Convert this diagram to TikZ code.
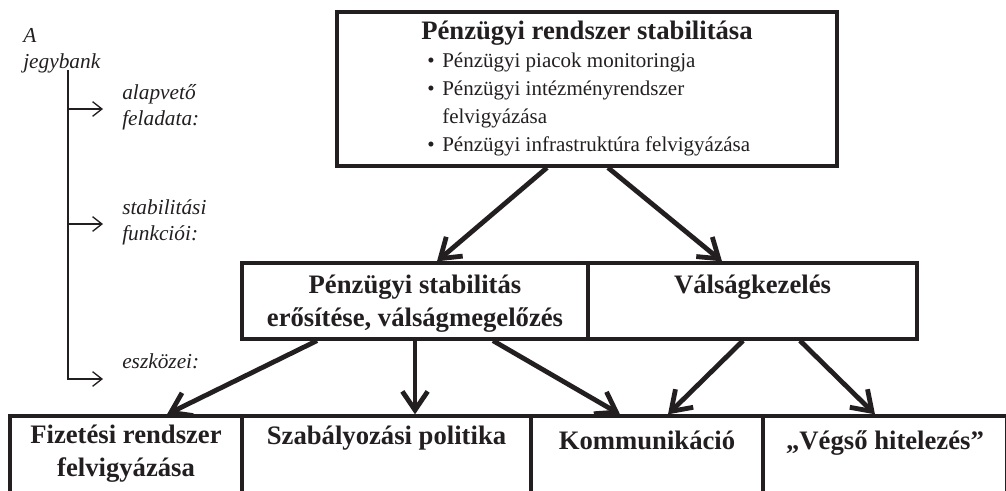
\documentclass[tikz,border=0pt]{standalone}
\usepackage{fontspec}
\setmainfont{Liberation Serif}
\usetikzlibrary{calc,positioning,arrows.meta}
\definecolor{ink}{RGB}{35,31,32}
\tikzset{
  box/.style={draw=ink, line width=2.5pt, inner sep=0pt, minimum height=57pt},
  boxtext/.style={text=ink, align=center, anchor=base, inner sep=0pt, font=\fontsize{20}{24.5}\selectfont\bfseries},
  link/.style={draw=ink, line width=3.6pt, -{Straight Barb[length=14pt,width=19pt]}},
  side/.style={text=ink, align=left, anchor=north west, inner sep=0pt, font=\fontsize{16}{19.5}\selectfont\itshape},
  fork/.style={draw=ink, line width=1pt, -{Straight Barb[length=7pt,width=11pt]}},
}

\begin{document}
\begin{tikzpicture}[x=0.75pt,y=-0.75pt]
\clip (0,0) rectangle (1006,490);
% feladat
\node[box, minimum width=375pt, minimum height=115.5pt] (top) at (587,89) {};
\node[boxtext] (toptitle) at (587,39) {Pénzügyi rendszer stabilitása};
% (base = last line)
\node[text=ink, align=left, anchor=base west, inner sep=0pt, font=\fontsize{15.75}{21}\selectfont] (toplist) at (427,151)
  {\makebox[11.25pt][l]{\textbullet}Pénzügyi piacok monitoringja\\
   \makebox[11.25pt][l]{\textbullet}Pénzügyi intézményrendszer\\
   \hspace*{11.25pt}felvigyázása\\
   \makebox[11.25pt][l]{\textbullet}Pénzügyi infrastruktúra felvigyázása};
% funkciok
\node[box, minimum width=259.5pt] (prev) at (415,301) {};
\node[box, minimum width=246.75pt] (crisis) at (752.5,301) {};
\node[boxtext] (prevtext) at (415,326) {Pénzügyi stabilitás\\erősítése, válságmegelőzés};
\node[boxtext] (crisistext) at (752.5,293) {Válságkezelés};
% eszkozok
\foreach \n/\x/\w/\b/\t in {pay/126/174/476/{Fizetési rendszer\\felvigyázása},
    reg/386.5/216.75/444/{Szabályozási politika},
    comm/647/174/449/{Kommunikáció},
    lend/885/183/449/{„Végső hitelezés”}} {
  \node[box, minimum width=\w pt, minimum height=93pt] (\n) at (\x,478) {};
  \node[boxtext] (\n text) at (\x,\b) {\t};
}
\draw[link] ($(top.south)+(-40,0)$) -- ($(prev.north)+(22,0)$);
\draw[link] ($(top.south)+(21,0)$) -- ($(crisis.north)+(-30.5,0)$);
\draw[link] ($(prev.south)+(-98,0)$) -- ($(pay.north)+(41,0)$);
\draw[link] (prev.south) -- ($(reg.north)+(28.5,0)$);
\draw[link] ($(prev.south)+(78,0)$) -- ($(comm.north)+(-27,0)$);
\draw[link] ($(crisis.south)+(-9.5,0)$) -- ($(comm.north)+(21,0)$);
\draw[link] ($(crisis.south)+(47.5,0)$) -- ($(lend.north)+(-10,0)$);
% bal oldal
\node[side] (bank) at (23,28) {A\\jegybank};
\node[side] (task) at (122,84) {alapvető\\feladata:};
\node[side] (func) at (122,199) {stabilitási\\funkciói:};
\node[side] (tool) at (122,353) {eszközei:};
\coordinate (root) at (68,70);
\coordinate (fork1) at (68,109);
\coordinate (fork2) at (68,224);
\coordinate (tip1) at (103,109);
\coordinate (tip2) at (103,224);
\coordinate (tip3) at (103,379);
\draw[fork] (root) |- (tip3);
\draw[fork] (fork1) -- (tip1);
\draw[fork] (fork2) -- (tip2);
\end{tikzpicture}
\end{document}
